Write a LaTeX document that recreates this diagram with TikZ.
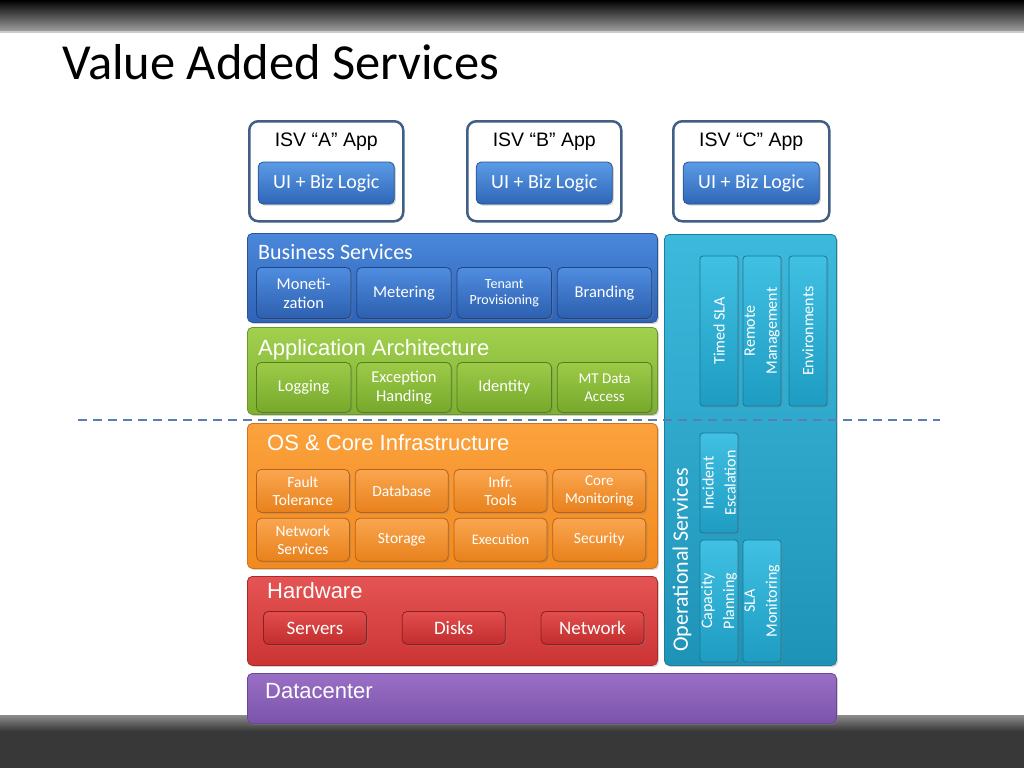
\documentclass[tikz,border=0pt]{standalone}
\usepackage{fontspec}
\setmainfont{Carlito}
\newfontfamily\arialfont{Liberation Sans}
\usepackage{tikz}
\usetikzlibrary{positioning, shadows}

\definecolor{isvline}{HTML}{3F5F86}
\definecolor{uitop}{HTML}{5B9BE6}
\definecolor{uibot}{HTML}{2F66B8}
\definecolor{uiline}{HTML}{24528F}
\definecolor{bstop}{HTML}{4A87DA}
\definecolor{bsbot}{HTML}{2F63B7}
\definecolor{bsline}{HTML}{2A5596}
\definecolor{bsubtop}{HTML}{4F8DE0}
\definecolor{bsubbot}{HTML}{2D5FAF}
\definecolor{bsubline}{HTML}{1E4784}
\definecolor{aatop}{HTML}{A2D04F}
\definecolor{aabot}{HTML}{7DB030}
\definecolor{aaline}{HTML}{6A9628}
\definecolor{asubtop}{HTML}{9DCB48}
\definecolor{asubbot}{HTML}{76A82B}
\definecolor{asubline}{HTML}{557E1E}
\definecolor{ostop}{HTML}{FBA23E}
\definecolor{osbot}{HTML}{F28A1E}
\definecolor{osline}{HTML}{D0741A}
\definecolor{osubtop}{HTML}{FAA64F}
\definecolor{osubbot}{HTML}{E8811C}
\definecolor{osubline}{HTML}{B8621A}
\definecolor{hwtop}{HTML}{E55454}
\definecolor{hwbot}{HTML}{CC3434}
\definecolor{hwline}{HTML}{A82A2A}
\definecolor{hsubtop}{HTML}{E34E4E}
\definecolor{hsubbot}{HTML}{C22C2C}
\definecolor{hsubline}{HTML}{8C1F1F}
\definecolor{dctop}{HTML}{9A70C6}
\definecolor{dcbot}{HTML}{7B53AA}
\definecolor{dcline}{HTML}{6A4896}
\definecolor{optop}{HTML}{3CB9DC}
\definecolor{opbot}{HTML}{1E93B8}
\definecolor{opline}{HTML}{1A7E9E}
\definecolor{ovtop}{HTML}{40C0E3}
\definecolor{ovbot}{HTML}{1E9CC2}
\definecolor{ovline}{HTML}{177A99}
\definecolor{sepcol}{HTML}{5A7EB3}

\begin{document}
\begin{tikzpicture}[
  x=1pt, y=-1pt,
  node distance=5pt,
  every node/.style={inner sep=0pt, align=center},
  shad/.style={drop shadow={opacity=0.35, shadow xshift=1.5pt, shadow yshift=-1.5pt}},
  layer/.style={rounded corners=5pt, anchor=north west, minimum width=410pt,
                line width=0.8pt, shad},
  bs/.style={layer, top color=bstop, bottom color=bsbot, draw=bsline},
  aa/.style={layer, top color=aatop, bottom color=aabot, draw=aaline},
  os/.style={layer, top color=ostop, bottom color=osbot, draw=osline},
  hw/.style={layer, top color=hwtop, bottom color=hwbot, draw=hwline},
  dc/.style={layer, top color=dctop, bottom color=dcbot, draw=dcline},
  op/.style={layer, top color=optop, bottom color=opbot, draw=opline},
  ltitle/.style={anchor=base west, text=white, font=\arialfont\fontsize{22}{24}\selectfont},
  sub/.style={rounded corners=5pt, anchor=north west, line width=0.8pt, shad,
              text=white, font=\fontsize{16.5}{19}\selectfont},
  bsub/.style={sub, top color=bsubtop, bottom color=bsubbot, draw=bsubline,
               minimum width=94.5pt, minimum height=51pt},
  asub/.style={sub, top color=asubtop, bottom color=asubbot, draw=asubline,
               minimum width=94.5pt, minimum height=50pt},
  osub/.style={sub, top color=osubtop, bottom color=osubbot, draw=osubline,
               minimum width=93pt, minimum height=43pt, font=\fontsize{15.5}{18}\selectfont},
  hsub/.style={sub, top color=hsubtop, bottom color=hsubbot, draw=hsubline,
               minimum width=103pt, minimum height=33pt, font=\fontsize{19}{21}\selectfont},
  ovsub/.style={sub, anchor=center, rotate=90, rounded corners=3pt, minimum height=38pt,
                top color=ovtop, bottom color=ovbot, draw=ovline,
                font=\fontsize{16}{22}\selectfont},
  isv/.style={draw=isvline, line width=2.5pt, rounded corners=9pt, fill=white,
              anchor=north west, minimum width=154pt, minimum height=100pt},
  isvtitle/.style={anchor=base, font=\arialfont\fontsize{19.5}{21}\selectfont},
  uibtn/.style={rounded corners=5pt, top color=uitop, bottom color=uibot, draw=uiline,
                line width=0.8pt, shad, minimum width=136pt, minimum height=42pt,
                text=white, font=\fontsize{20}{22}\selectfont},
  sepline/.style={draw=sepcol, line width=2pt, dash pattern=on 9pt off 6pt}
]
% slide frame
\fill[white] (0,0) rectangle (1024,768);
\shade[top color=black, bottom color=black!38] (0,0) rectangle (1024,31);
\fill[black!20] (0,31) rectangle (1024,33);
\shade[top color=black!45, bottom color=black!78] (0,715) rectangle (1024,731);
\fill[black!78] (0,731) rectangle (1024,768);
\useasboundingbox (0,0) rectangle (1024,768);

\node[anchor=base west, font=\fontsize{50.5}{52}\selectfont] (title) at (62,79) {Value Added Services};

% ISV apps
\node[isv] (isva) at (248,120) {};
\node[isv] (isvb) at (466,120) {};
\node[isv, minimum width=156pt] (isvc) at (672,120) {};
\node[isvtitle] (ta) at ([yshift=-26pt]isva.north) {ISV “A” App};
\node[isvtitle] (tb) at ([yshift=-26pt]isvb.north) {ISV “B” App};
\node[isvtitle] (tc) at ([yshift=-26pt]isvc.north) {ISV “C” App};
\node[uibtn] (uia) at ([yshift=-63pt]isva.north) {UI + Biz Logic};
\node[uibtn] (uib) at ([yshift=-63pt]isvb.north) {UI + Biz Logic};
\node[uibtn] (uic) at ([yshift=-63pt]isvc.north) {UI + Biz Logic};

% Business services
\node[bs, minimum height=89pt] (bsl) at (247,233) {};
\node[ltitle, font=\fontsize{22}{24}\selectfont] (bst) at (258,259) {Business Services};
\node[bsub] (mon) at (256,267) {Moneti-\\zation};
\node[bsub, right=of mon] (met) {Metering};
\node[bsub, right=of met, font=\fontsize{14}{16}\selectfont] (ten) {Tenant\\Provisioning};
\node[bsub, right=of ten] (bra) {Branding};

% Application architecture
\node[aa, minimum height=87pt] (aal) at (247,327) {};
\node[ltitle] (aat) at (258,355) {Application Architecture};
\node[asub] (log) at (256,362) {Logging};
\node[asub, right=of log] (exc) {Exception\\Handing};
\node[asub, right=of exc] (ide) {Identity};
\node[asub, right=of ide, font=\fontsize{15}{18}\selectfont] (mtd) {MT Data\\Access};

% OS & core infrastructure
\node[os, minimum height=145pt] (osl) at (247,423) {};
\node[ltitle] (ost) at (267,450) {OS \& Core Infrastructure};
\node[osub] (flt) at (256,469) {Fault\\Tolerance};
\node[osub, right=of flt] (dbs) {Database};
\node[osub, right=of dbs] (inf) {Infr.\\Tools};
\node[osub, right=of inf, font=\fontsize{15}{18}\selectfont] (cmo) {Core\\Monitoring};
\node[osub, below=of flt] (nws) {Network\\Services};
\node[osub, right=of nws] (sto) {Storage};
\node[osub, right=of sto, font=\fontsize{14.5}{17}\selectfont] (exe) {Execution};
\node[osub, right=of exe] (sec) {Security};

% Hardware
\node[hw, minimum height=89pt] (hwl) at (247,576) {};
\node[ltitle] (hwt) at (267,598) {Hardware};
\node[hsub] (srv) at (263,611) {Servers};
\node[hsub, right=35pt of srv] (dsk) {Disks};
\node[hsub, right=35pt of dsk] (net) {Network};

% Datacenter
\node[dc, minimum width=589pt, minimum height=50pt] (dcl) at (247,673) {};
\node[ltitle] (dct) at (265,698) {Datacenter};

% Operational services
\node[op, minimum width=172pt, minimum height=431pt] (opl) at (664,234) {};
\node[text=white, rotate=90, font=\fontsize{22}{24}\selectfont] (opt) at (682,560) {Operational Services};
\node[ovsub, minimum width=150pt] (tsla) at (719,331) {Timed SLA};
\node[ovsub, minimum width=150pt] (rmg) at (762,331) {Remote\\Management};
\node[ovsub, minimum width=150pt] (env) at (808,331) {Environments};
\node[ovsub, minimum width=100pt] (ies) at (719,483) {Incident\\Escalation};
\node[ovsub, minimum width=122pt] (cap) at (719,601) {Capacity\\Planning};
\node[ovsub, minimum width=122pt] (slm) at (762,601) {SLA\\Monitoring};

% separator
\coordinate (sepl) at (78,420);
\coordinate (sepr) at (940,420);
\draw[sepline] (sepl) -- (sepr);
\end{tikzpicture}
\end{document}
